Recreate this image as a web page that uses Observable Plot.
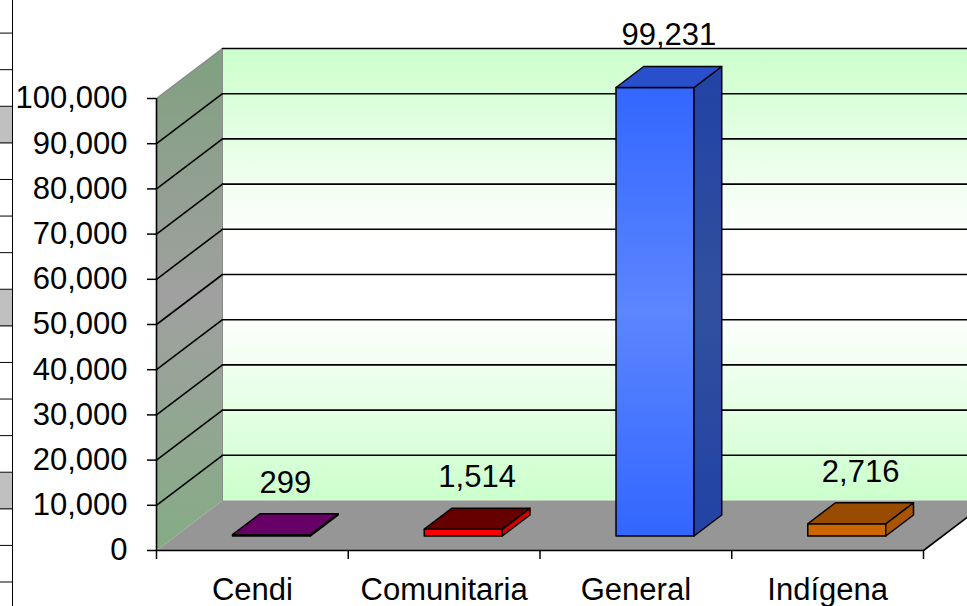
<!DOCTYPE html>
<html>
<head>
<meta charset="utf-8">
<script src="https://cdn.jsdelivr.net/npm/d3@7"></script>
<script src="https://cdn.jsdelivr.net/npm/@observablehq/plot@0.6"></script>
<style>
  html, body { margin: 0; padding: 0; background: #fff; }
  body { width: 967px; height: 606px; overflow: hidden; font-family: "Liberation Sans", Arial, sans-serif; }
  #wrap { position: relative; width: 967px; height: 606px; overflow: hidden; }
  #sheet {
    position: absolute; left: 0; top: 0; width: 12px; height: 606px;
    border-right: 1.6px solid #000; z-index: 2;
    background:
      linear-gradient(#000 0 1.4px, transparent 1.4px) 0 32.6px / 100% 36.6px repeat-y,
      linear-gradient(#c0c0c0 0 36.6px, transparent 36.6px) 0 106.6px / 100% 183px repeat-y;
  }
  #chart { position: absolute; left: 0; top: 0; }
</style>
</head>
<body>
<div id="wrap"><div id="sheet"></div><div id="chart"></div></div>
<script>
// ---- data ----
const categories = ["Cendi", "Comunitaria", "General", "Indígena"];
const values = [299, 1514, 99231, 2716];
const yTicks = [0, 10000, 20000, 30000, 40000, 50000, 60000, 70000, 80000, 90000, 100000];

// ---- styles ----
const frontColors = ["#800080", "#ff0000", "url(#genFront)", "#cc6600"];
const topColors   = ["#660066", "#660000", "#2a4fcc", "#994c00"];
const sideColors  = ["#660066", "#d00000", "url(#genSide)", "#a85400"];

// ---- 3D geometry (oblique projection) ----
const W = 967, H = 606;
const mL = 156, mR = 44, mT = 98, mB = 56;
const pxPerU = (W - mL - mR) / categories.length;
const pxPerV = (H - mT - mB) / 100000;
const DX = 66 / pxPerU;      // depth offset in x units
const DY = 50 / pxPerV;      // depth offset in value units
const HW = 0.2034;           // bar half width (category units)
const D0 = 0.29, D1 = 0.71;  // bar front/back depth
const P = (u, v, d) => ({x: u + d * DX, y: v + d * DY});
const n = categories.length;
const vMax = yTicks[yTicks.length - 1];

const poly = (pts, opts) => Plot.line(pts, {x: "x", y: "y", curve: "linear-closed", ...opts});
const path = (pts, opts) => Plot.line(pts, {x: "x", y: "y", ...opts});

const marks = [];
marks.push(poly([P(0, 0, 1), P(n + 0.4, 0, 1), P(n + 0.4, vMax, 1), P(0, vMax, 1)], {fill: "url(#backGrad)", stroke: "none"}));
marks.push(poly([P(0, 0, 0), P(0, 0, 1), P(0, vMax, 1), P(0, vMax, 0)], {fill: "url(#sideGrad)", stroke: "none"}));
marks.push(poly([P(0, 0, 0), P(n, 0, 0), P(n, 0, 1), P(0, 0, 1)], {fill: "#969696", stroke: "none"}));
marks.push(path([P(0, 0, 1), P(0, vMax, 1)], {stroke: "#8a8a8a", strokeWidth: 1}));
for (const v of yTicks.slice(1)) {
  const top = v === vMax;
  marks.push(path([P(0, v, 0), P(0, v, 1)], {stroke: top ? "#8a8a8a" : "#000", strokeWidth: top ? 1.5 : 1.6}));
  marks.push(path([P(0, v, 1), P(n + 0.4, v, 1)], {stroke: "#000", strokeWidth: 1.6}));
}
marks.push(path([P(0, 0, 0), P(n, 0, 0), P(n, 0, 1)], {stroke: "#000", strokeWidth: 1.6}));
marks.push(Plot.ruleX([0], {y1: 0, y2: vMax, stroke: "#000", strokeWidth: 1.6}));

values.forEach((v, i) => {
  const c = i + 0.5, u0 = c - HW, u1 = c + HW;
  const st = {stroke: "#000", strokeWidth: 1.5, strokeLinejoin: "round"};
  marks.push(poly([P(u0, 0, D0), P(u1, 0, D0), P(u1, v, D0), P(u0, v, D0)], {fill: frontColors[i], ...st}));
  marks.push(poly([P(u1, 0, D0), P(u1, 0, D1), P(u1, v, D1), P(u1, v, D0)], {fill: sideColors[i], ...st}));
  marks.push(poly([P(u0, v, D0), P(u1, v, D0), P(u1, v, D1), P(u0, v, D1)], {fill: topColors[i], ...st}));
});

const fmt = d3.format(",");
marks.push(Plot.text(values, {
  x: (d, i) => i + 0.5 + 0.5 * DX,
  y: d => d + D1 * DY,
  text: d => fmt(d),
  dy: -31, lineAnchor: "middle", fill: "#000", fontSize: 31
}));

marks.push(Plot.axisY({ticks: yTicks, tickFormat: d => fmt(d), tickSize: 9, tickPadding: 20, fontSize: 31, stroke: "#000", strokeWidth: 1.5, fill: "#000", label: null}));
marks.push(Plot.axisX({ticks: d3.range(0, n + 1), tickFormat: () => "", tickSize: 9, stroke: "#000", strokeWidth: 1.5, label: null}));
marks.push(Plot.axisX({ticks: d3.range(n).map(i => i + 0.5), tickFormat: d => categories[Math.floor(d)], tickSize: 0, tickPadding: 27, fontSize: 31, fill: "#000", label: null}));

const svg = Plot.plot({
  width: W, height: H,
  marginLeft: mL, marginRight: mR, marginTop: mT, marginBottom: mB,
  x: {type: "linear", domain: [0, n], axis: null, label: null},
  y: {type: "linear", domain: [0, vMax], axis: null, label: null},
  style: {fontFamily: "Liberation Sans, Arial, sans-serif", fontSize: "31px", color: "#000", background: "transparent"},
  marks
});

const defs = d3.select(svg).insert("defs", ":first-child");
function grad(id, stops) {
  const g = defs.append("linearGradient").attr("id", id).attr("x1", 0).attr("y1", 0).attr("x2", 0).attr("y2", 1);
  for (const [o, c] of stops) g.append("stop").attr("offset", o).attr("stop-color", c);
}
grad("backGrad", [[0, "#ccffcc"], [0.42, "#ffffff"], [0.58, "#ffffff"], [1, "#ccffcc"]]);
grad("sideGrad", [[0, "#80a080"], [0.5, "#a0a0a0"], [1, "#84ac84"]]);
grad("genFront", [[0, "#3366ff"], [0.5, "#5b86ff"], [1, "#3366ff"]]);
grad("genSide", [[0, "#2242a6"], [0.5, "#30509e"], [1, "#2242a6"]]);

document.getElementById("chart").appendChild(svg);
</script>
</body>
</html>
